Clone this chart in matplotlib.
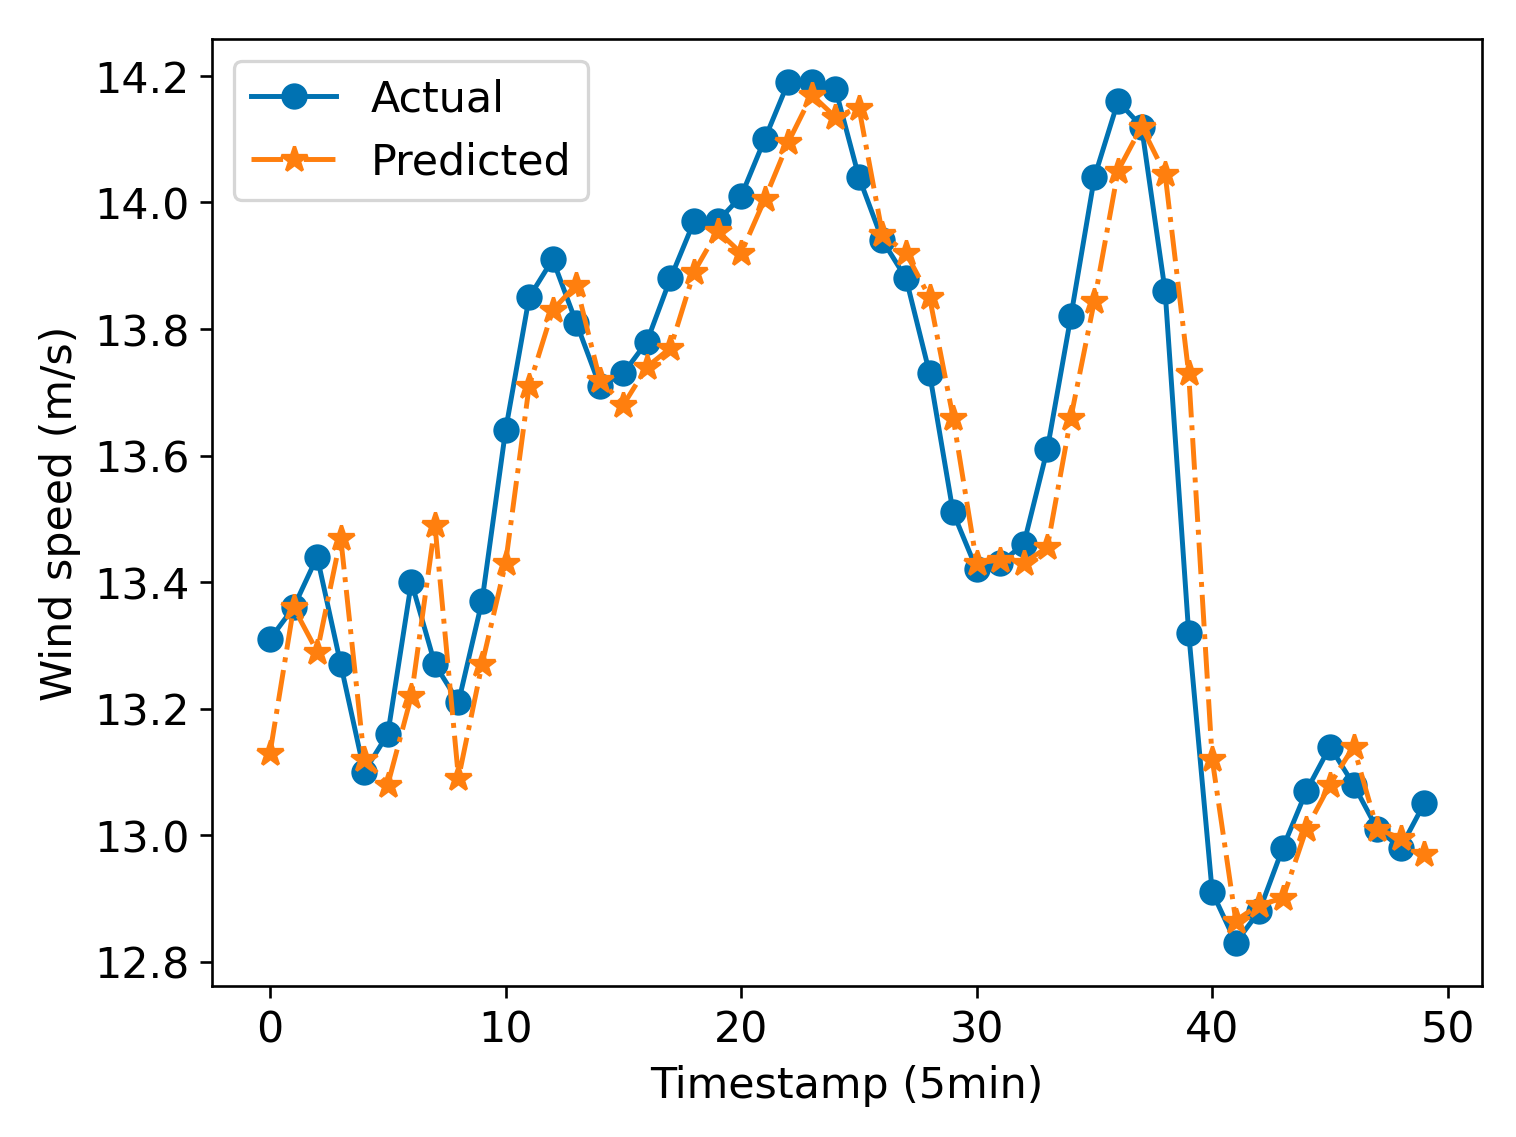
import matplotlib
matplotlib.use("Agg")
import matplotlib.pyplot as plt

timestamps = list(range(50))

actual = [13.31, 13.36, 13.44, 13.27, 13.10, 13.16, 13.40, 13.27, 13.21, 13.37,
          13.64, 13.85, 13.91, 13.81, 13.71, 13.73, 13.78, 13.88, 13.97, 13.97,
          14.01, 14.10, 14.19, 14.19, 14.18, 14.04, 13.94, 13.88, 13.73, 13.51,
          13.42, 13.43, 13.46, 13.61, 13.82, 14.04, 14.16, 14.12, 13.86, 13.32,
          12.91, 12.83, 12.88, 12.98, 13.07, 13.14, 13.08, 13.01, 12.98, 13.05]

predicted = [13.13, 13.36, 13.29, 13.47, 13.12, 13.08, 13.22, 13.49, 13.09, 13.27,
             13.43, 13.71, 13.83, 13.87, 13.72, 13.68, 13.74, 13.77, 13.89, 13.955,
             13.92, 14.005, 14.095, 14.17, 14.135, 14.15, 13.95, 13.92, 13.85, 13.66,
             13.43, 13.435, 13.43, 13.455, 13.66, 13.845, 14.05, 14.12, 14.045, 13.73,
             13.12, 12.865, 12.89, 12.90, 13.01, 13.08, 13.14, 13.01, 12.995, 12.97]

fig, ax = plt.subplots(figsize=(6.4, 4.8), dpi=237)

ax.plot(timestamps, actual, color="#0072B2", marker="o", markersize=7,
        linewidth=1.5, label="Actual")
ax.plot(timestamps, predicted, color="#FF7F0E", marker="*", markersize=8,
        linewidth=1.5, linestyle="-.", label="Predicted")

ax.set_xlabel("Timestamp (5min)", fontsize=13)
ax.set_ylabel("Wind speed (m/s)", fontsize=13)
ax.tick_params(labelsize=13)
ax.legend(fontsize=13, loc="upper left")

fig.subplots_adjust(left=0.14, right=0.977, top=0.965, bottom=0.133)
fig.savefig("out.png", dpi=237)
